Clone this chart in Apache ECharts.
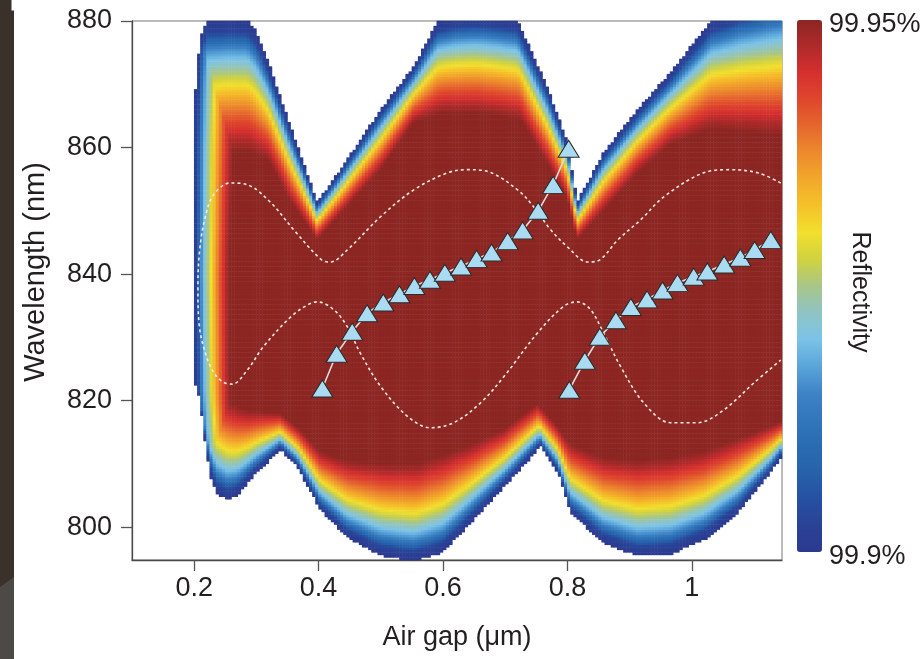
<!DOCTYPE html>
<html><head><meta charset="utf-8">
<script src="https://cdn.jsdelivr.net/npm/echarts@6/dist/echarts.min.js"></script>
<style>html,body{margin:0;padding:0;background:#fff}#c{width:920px;height:659px}</style>
</head><body><div id="c"></div>
<script>
// ---- axes ----
const xRange = [0.1, 1.145];
const yRange = [794.8, 880];
const xTicks = [0.2, 0.4, 0.6, 0.8, 1];
const yTicks = [800, 820, 840, 860, 880];
const reflRange = [99.9, 99.95];
const reflLabels = ['99.95%', '99.9%'];

// ---- stop-band edges: [air gap, wavelength] ----
const topOuter = [[0.198,862],[0.205,873],[0.212,878],[0.222,880.3],[0.285,880.3],[0.30,878.3],[0.318,873.9],[0.355,863.3],[0.398,851.4],[0.435,856.5],[0.50,866.0],[0.553,872.8],[0.591,879.8],[0.62,880.5],[0.65,880.8],[0.69,880.5],[0.72,880],[0.768,869.6],[0.80,860.8],[0.816,851.4],[0.858,859.2],[0.913,866],[0.966,871.9],[1.031,880],[1.08,882],[1.15,884]];
const topInner = [[0.20,858],[0.25,859.5],[0.29,859.5],[0.32,858],[0.355,851.5],[0.398,845.5],[0.435,849.5],[0.50,856.5],[0.553,864],[0.60,865.5],[0.66,865.5],[0.725,864.5],[0.768,857.5],[0.80,852],[0.816,845.5],[0.858,850],[0.913,856],[0.966,860.5],[1.03,863],[1.15,862]];
const bottomOuter = [[0.198,824],[0.207,821],[0.214,816.5],[0.221,811],[0.229,807],[0.237,805.2],[0.253,804.3],[0.27,805],[0.30,808.5],[0.339,812.2],[0.366,809.5],[0.403,802.7],[0.446,798.4],[0.50,795.5],[0.553,794.6],[0.60,796],[0.644,800.6],[0.698,806.3],[0.757,812.7],[0.785,808.6],[0.805,802.2],[0.858,797.5],[0.913,795.4],[0.966,795.7],[1.02,798],[1.074,802.2],[1.127,808.6],[1.15,812]];
const bottomInner = [[0.20,826],[0.23,822],[0.26,819.5],[0.286,818.5],[0.339,818],[0.37,815.5],[0.403,812],[0.446,810.5],[0.511,810],[0.56,810],[0.644,813],[0.698,815.5],[0.752,819.5],[0.78,816.5],[0.805,813.2],[0.858,811],[0.913,810.5],[0.966,811],[1.02,812],[1.074,814],[1.127,816],[1.15,817]];
// left edge: [wavelength, air gap]
const leftOuter = [[800,0.235],[805,0.222],[810,0.213],[815,0.206],[822,0.201],[840,0.199],[860,0.199],[870,0.201],[876,0.205],[880,0.212]];
const leftInner = [[800,0.275],[810,0.266],[820,0.258],[840,0.256],[860,0.262],[880,0.27]];

// ---- white dashed contour ----
const dashCurve = [[1.143,854.4],[1.106,856.0],[1.062,856.5],[1.019,856.0],[0.955,852.2],[0.918,848.6],[0.881,845.4],[0.853,842.3],[0.833,841.9],[0.800,844.3],[0.773,847.0],[0.746,850.6],[0.720,853.3],[0.672,856.2],[0.640,856.5],[0.607,856.0],[0.553,853.3],[0.500,849.1],[0.446,843.8],[0.419,841.9],[0.404,842.3],[0.360,847.0],[0.323,851.3],[0.286,854.1],[0.258,854.4],[0.231,852.5],[0.218,849.1],[0.209,844],[0.206,838],[0.208,832],[0.218,827.5],[0.231,824.5],[0.247,822.9],[0.261,822.6],[0.286,824.9],[0.311,828.5],[0.355,833.2],[0.382,835.1],[0.398,835.6],[0.424,834.4],[0.446,831.7],[0.467,827.5],[0.500,822.2],[0.543,817.5],[0.580,815.7],[0.617,816.5],[0.660,819.6],[0.698,823.8],[0.752,830.7],[0.794,834.9],[0.816,835.6],[0.837,834.4],[0.858,830.7],[0.886,825.3],[0.923,819.6],[0.966,816.5],[1.009,816.5],[1.051,818.5],[1.100,822.8],[1.143,826.4]];

// ---- triangles ----
const triAx = [0.406,0.429,0.454,0.478,0.504,0.530,0.554,0.579,0.603,0.629,0.654,0.678,0.704,0.728,0.753,0.777,0.802];
const triAy = [821.9,827.4,830.9,833.8,835.5,836.8,838.1,839.1,840.2,841.2,842.4,843.4,845.2,846.9,850.0,854.1,859.8];
const triBx = [0.803,0.828,0.852,0.878,0.902,0.928,0.953,0.977,1.003,1.025,1.052,1.078,1.101,1.127];
const triBy = [821.7,826.3,830.1,832.7,834.8,836.0,837.4,838.6,839.6,840.4,841.5,842.6,843.8,845.4];

// ---- build the reflectivity grid from the edges ----
function interp(arr, v) {
  if (v <= arr[0][0]) return arr[0][1];
  for (let k = 1; k < arr.length; k++) {
    if (v <= arr[k][0]) {
      const a = arr[k-1], b = arr[k];
      return a[1] + (b[1]-a[1]) * (v-a[0]) / (b[0]-a[0]);
    }
  }
  return arr[arr.length-1][1];
}
// fraction across the edge ramp -> position in the colour scale
const rampPairs = [[0,0],[0.1,0.06],[0.22,0.3],[0.32,0.42],[0.42,0.52],[0.5,0.6],[0.62,0.72],[0.78,0.85],[0.9,0.94],[1,1]];
const NX = 209, NY = 213;
const dx = (xRange[1]-xRange[0]) / NX, dy = (yRange[1]-yRange[0]) / NY;
const cells = [];
for (let i = 0; i < NX; i++) {
  const x = xRange[0] + (i+0.5)*dx;
  const ot = interp(topOuter, x), it = interp(topInner, x);
  const ob = interp(bottomOuter, x), ib = interp(bottomInner, x);
  for (let j = 0; j < NY; j++) {
    const w = yRange[0] + (j+0.5)*dy;
    const lo = interp(leftOuter, w), li = interp(leftInner, w);
    const tTop = (ot - w) / (ot - it);
    const tBot = (w - ob) / (ib - ob);
    const tLeft = (x - lo) / (li - lo);
    let t = Math.min(tTop, tBot, tLeft);
    if (t < 0) continue;
    t = Math.min(t, 1);
    const c = interp(rampPairs, t);
    cells.push([i, j, reflRange[0] + (reflRange[1]-reflRange[0]) * c]);
  }
}
const xCats = Array.from({length: NX}, (_, i) => i);
const yCats = Array.from({length: NY}, (_, j) => j);

const cmap = ['#2b3990','#2a4296','#2650a2','#2662aa','#2a6cb2','#3276bb','#3e84c6','#5aa6da','#7cc3e8','#8fc4c4','#a8c688','#d0d240','#f2df2e','#f5c22a','#f2a82a','#ed8a2d','#e6672e','#de472c','#d6302f','#b02a2a','#8c2622'];

const FONT = "'Liberation Sans', Arial, sans-serif";
const TXT = '#231f20';
const chart = echarts.init(document.getElementById('c'), null, {renderer: 'canvas'});
chart.setOption({
  animation: false,
  backgroundColor: '#ffffff',
  grid: {left: 132, top: 21, width: 650, height: 539, show: true, borderColor: '#777', borderWidth: 1, backgroundColor: 'transparent'},
  xAxis: [
    {type: 'value', min: xRange[0], max: xRange[1], position: 'bottom',
     axisLine: {show: true, lineStyle: {color: '#4a4a4a', width: 1.3}},
     axisTick: {show: true, length: 11, customValues: xTicks, lineStyle: {color: '#555', width: 1.3}},
     axisLabel: {customValues: xTicks, fontSize: 27, color: TXT, fontFamily: FONT, margin: 15},
     splitLine: {show: false},
     name: 'Air gap (\u03bcm)', nameLocation: 'middle', nameGap: 64,
     nameTextStyle: {fontSize: 27, color: TXT, fontFamily: FONT}},
    {type: 'category', data: xCats, show: false, gridIndex: 0}
  ],
  yAxis: [
    {type: 'value', min: yRange[0], max: yRange[1], position: 'left',
     axisLine: {show: true, lineStyle: {color: '#4a4a4a', width: 1.3}},
     axisTick: {show: true, length: 11, customValues: yTicks, lineStyle: {color: '#555', width: 1.3}},
     axisLabel: {customValues: yTicks, fontSize: 27, color: TXT, fontFamily: FONT, margin: 20},
     splitLine: {show: false}},
    {type: 'category', data: yCats, show: false, gridIndex: 0}
  ],
  visualMap: {
    type: 'continuous', min: reflRange[0], max: reflRange[1], seriesIndex: 0,
    calculable: false, orient: 'vertical', left: 797, top: 20, padding: 0,
    itemWidth: 25, itemHeight: 532, hoverLink: false,
    inRange: {color: cmap}
  },
  graphic: [
    {type: 'rect', shape: {x: 0, y: 0, width: 14, height: 659}, style: {fill: '#3b312b'}, z: 100},
    {type: 'polygon', shape: {points: [[0,587],[14,577],[14,659],[0,659]]}, style: {fill: '#4d4946'}, z: 101},
    {type: 'rect', shape: {x: 11.5, y: 0, width: 3, height: 10.5}, style: {fill: '#ffffff'}, z: 102},
    {type: 'text', x: 36, y: 272, rotation: Math.PI/2, style: {text: 'Wavelength (nm)', fontSize: 29, fill: TXT, fontFamily: FONT, align: 'center', verticalAlign: 'middle'}, z: 100},
    {type: 'text', left: 829, top: 11, style: {text: reflLabels[0], fontSize: 27, fill: TXT, fontFamily: FONT}, z: 100},
    {type: 'text', left: 829, top: 543, style: {text: reflLabels[1], fontSize: 27, fill: TXT, fontFamily: FONT}, z: 100},
    {type: 'text', x: 860, y: 292, rotation: -Math.PI/2, style: {text: 'Reflectivity', fontSize: 25, fill: TXT, fontFamily: FONT, align: 'center', verticalAlign: 'middle'}, z: 100}
  ],
  series: [
    {type: 'heatmap', xAxisIndex: 1, yAxisIndex: 1, data: cells, progressive: 0, silent: true,
     emphasis: {disabled: true}},
    {type: 'line', xAxisIndex: 0, yAxisIndex: 0, data: dashCurve, smooth: 0.35, showSymbol: false, silent: true,
     lineStyle: {color: '#f6e8e2', width: 1.6, type: [3, 3]}},
    {type: 'line', xAxisIndex: 0, yAxisIndex: 0, data: triAx.map((x, i) => [x, triAy[i]]),
     symbol: 'triangle', symbolSize: [21, 17], showAllSymbol: true, silent: true,
     itemStyle: {color: '#a9dcf2', borderColor: '#2b2b2b', borderWidth: 1},
     lineStyle: {color: '#dcdcdc', width: 1.6}},
    {type: 'line', xAxisIndex: 0, yAxisIndex: 0, data: triBx.map((x, i) => [x, triBy[i]]),
     symbol: 'triangle', symbolSize: [21, 17], showAllSymbol: true, silent: true,
     itemStyle: {color: '#a9dcf2', borderColor: '#2b2b2b', borderWidth: 1},
     lineStyle: {color: '#dcdcdc', width: 1.6}}
  ]
});
</script></body></html>
